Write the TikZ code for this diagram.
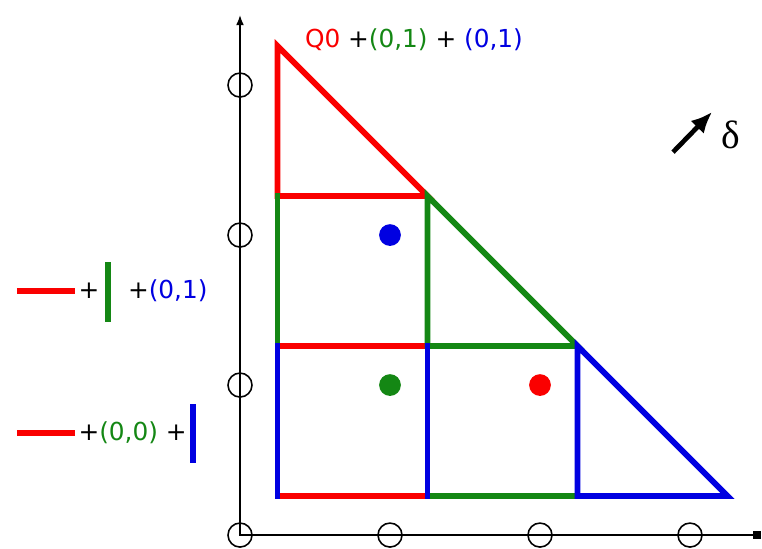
\documentclass[tikz,border=0pt]{standalone}
\usepackage{fontspec}
\setmainfont{DejaVu Sans}
\newfontfamily\deltafont{Liberation Serif}
\usetikzlibrary{arrows.meta}
\definecolor{qred}{RGB}{250,0,0}
\definecolor{qgreen}{RGB}{20,135,20}
\definecolor{qblue}{RGB}{0,0,225}

\begin{document}
\begin{tikzpicture}[x=2cm, y=2cm, font=\fontsize{9.4}{11}\selectfont,
    edge/.style={line width=2.2pt, line cap=rect},
    lattice/.style={draw, circle, inner sep=0pt, minimum size=0.32cm, line width=0.6pt},
    dot/.style={circle, inner sep=0pt, minimum size=0.29cm},
    bar/.style={line width=2.6pt}]
    \useasboundingbox (-1.6,-0.087) rectangle (3.48,3.567);

    % Axes
    \coordinate (origin) at (0,0);
    \coordinate (ytop) at (0,3.47);
    \coordinate (xend) at (3.47,0);
    \draw[line width=0.8pt, {Latex[length=4pt,width=3pt]}-{Square[length=3pt,width=3pt]}] (ytop) |- (xend);

    % Lattice points on the axes
    \foreach \i in {0,1,2,3} \node[lattice] (x\i) at (\i,0) {};
    \foreach \j in {1,2,3} \node[lattice] (y\j) at (0,\j) {};

    % Grid of the cut triangle
    \foreach \i in {0,1,2,3} \foreach \j in {0,1,2,3} \coordinate (g\i\j) at (0.25+\i,0.26+\j);

    % Red pieces
    \draw[edge, qred] (g03) -- (g02) -- (g12) -- cycle;
    \draw[edge, qred] (g01) -- (g11);
    \draw[edge, qred] (g00) -- (g10);

    % Green pieces
    \draw[edge, qgreen] (g02) -- (g01);
    \draw[edge, qgreen] (g12) -- (g11) -- (g21) -- cycle;
    \draw[edge, qgreen] (g10) -- (g20);

    % Blue pieces
    \draw[edge, qblue] (g01) -- (g00);
    \draw[edge, qblue] (g11) -- (g10);
    \draw[edge, qblue] (g21) -- (g20) -- (g30) -- cycle;

    % Dots
    \node[dot, fill=qblue] (dblue) at (1,2) {};
    \node[dot, fill=qgreen] (dgreen) at (1,1) {};
    \node[dot, fill=qred] (dred) at (2,1) {};

    % Top label
    \node[anchor=base west, inner sep=0pt] (toplbl) at (0.43,3.253)
        {\textcolor{qred}{Q0} +\textcolor{qgreen}{(0,1)} + \textcolor{qblue}{(0,1)}};

    % Delta arrow
    \coordinate (dfrom) at (2.887,2.553);
    \coordinate (dto) at (3.147,2.82);
    \draw[line width=1.8pt, -{Latex[length=8pt,width=7pt]}] (dfrom) -- (dto);
    \node[font=\deltafont\fontsize{15}{17}\selectfont] (delta) at (3.27,2.67) {δ};

    % Legend, first row
    \coordinate (ra1) at (-1.487,1.627);
    \coordinate (ra2) at (-1.1,1.627);
    \draw[bar, qred] (ra1) -- (ra2);
    \node[anchor=west, inner sep=0pt] (plusa) at (-1.08,1.627) {+};
    \coordinate (ga1) at (-0.88,1.82);
    \coordinate (ga2) at (-0.88,1.42);
    \draw[bar, qgreen] (ga1) -- (ga2);
    \node[anchor=west, inner sep=0pt] (offa) at (-0.75,1.627) {+\textcolor{qblue}{(0,1)}};

    % Legend, second row
    \coordinate (rb1) at (-1.487,0.68);
    \coordinate (rb2) at (-1.1,0.68);
    \draw[bar, qred] (rb1) -- (rb2);
    \node[anchor=west, inner sep=0pt] (offb) at (-1.08,0.68) {+\textcolor{qgreen}{(0,0)} +};
    \coordinate (bb1) at (-0.313,0.873);
    \coordinate (bb2) at (-0.313,0.48);
    \draw[bar, qblue] (bb1) -- (bb2);
\end{tikzpicture}
\end{document}
